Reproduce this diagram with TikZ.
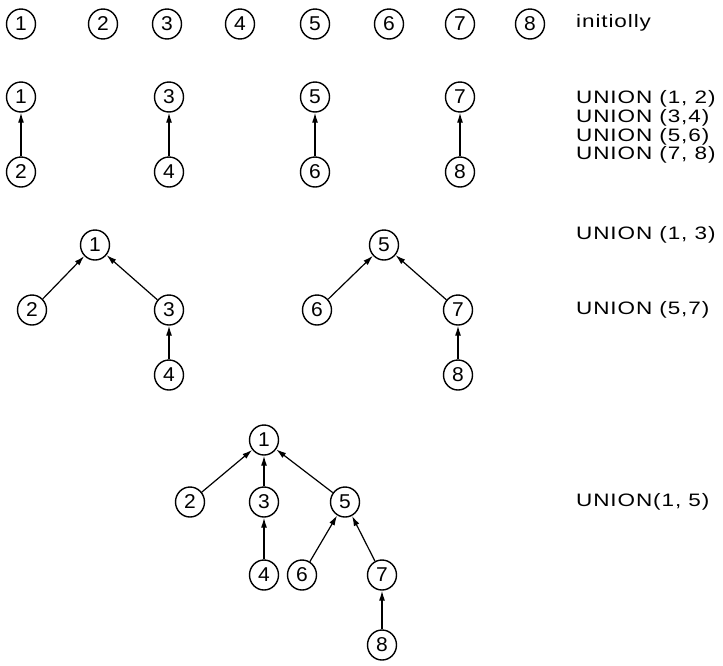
\documentclass[tikz,border=0pt]{standalone}
\usepackage{fontspec}
\setmainfont{Liberation Sans}
\newfontfamily\lblfont[FakeStretch=1.25,LetterSpace=5]{Liberation Sans}
\newfontfamily\numfont[FakeStretch=1.05]{Liberation Sans}
\usetikzlibrary{shapes.geometric,arrows.meta}
\tikzset{
  vx/.style={ellipse,draw,line width=1.4pt,minimum width=29pt,minimum height=30pt,inner sep=0pt,font=\numfont\fontsize{20}{20}\selectfont},
  arr/.style={-{Latex[length=10pt,width=6pt]},line width=1.2pt},
  lbl/.style={anchor=west,inner sep=0pt,font=\lblfont\fontsize{18}{18}\selectfont}
}
\begin{document}
\begin{tikzpicture}[x=1pt,y=-1pt]
\useasboundingbox (0,0) rectangle (723,665);
% row 1
\node[vx] (a1) at (21,24) {1};
\node[vx] (a2) at (103,24) {2};
\node[vx] (a3) at (167,24) {3};
\node[vx] (a4) at (240,24) {4};
\node[vx] (a5) at (315,24) {5};
\node[vx] (a6) at (389,24) {6};
\node[vx] (a7) at (460,24) {7};
\node[vx] (a8) at (530,24) {8};
\node[lbl] (t1) at (576,23) {initiolly};
% row 2
\node[vx] (b1) at (21,97) {1};
\node[vx] (b2) at (21,172) {2};
\node[vx] (b3) at (169,97) {3};
\node[vx] (b4) at (169,172) {4};
\node[vx] (b5) at (315,97) {5};
\node[vx] (b6) at (315,172) {6};
\node[vx] (b7) at (460,97) {7};
\node[vx] (b8) at (460,172) {8};
\draw[arr] (b2) -- (b1);
\draw[arr] (b4) -- (b3);
\draw[arr] (b6) -- (b5);
\draw[arr] (b8) -- (b7);
\node[lbl] (t2) at (576,99) {UNION (1, 2)};
\node[lbl] (t3) at (576,117.7) {UNION (3,4)};
\node[lbl] (t4) at (576,136.4) {UNION (5,6)};
\node[lbl] (t5) at (576,155.1) {UNION (7, 8)};
% row 3
\node[vx] (c1) at (95,245) {1};
\node[vx] (c2) at (32,310) {2};
\node[vx] (c3) at (169,310) {3};
\node[vx] (c4) at (169,375) {4};
\node[vx] (c5) at (384,245) {5};
\node[vx] (c6) at (317,310) {6};
\node[vx] (c7) at (458,310) {7};
\node[vx] (c8) at (458,375) {8};
\draw[arr] (c2) -- (c1);
\draw[arr] (c3) -- (c1);
\draw[arr] (c4) -- (c3);
\draw[arr] (c6) -- (c5);
\draw[arr] (c7) -- (c5);
\draw[arr] (c8) -- (c7);
\node[lbl] (t6) at (576,235) {UNION (1, 3)};
\node[lbl] (t7) at (576,310) {UNION (5,7)};
% row 4
\node[vx] (d1) at (264,440) {1};
\node[vx] (d2) at (190,502) {2};
\node[vx] (d3) at (264,502) {3};
\node[vx] (d5) at (345,502) {5};
\node[vx] (d4) at (264,575) {4};
\node[vx] (d6) at (302,575) {6};
\node[vx] (d7) at (382,575) {7};
\node[vx] (d8) at (382,645) {8};
\draw[arr] (d2) -- (d1);
\draw[arr] (d3) -- (d1);
\draw[arr] (d5) -- (d1);
\draw[arr] (d4) -- (d3);
\draw[arr] (d6) -- (d5);
\draw[arr] (d7) -- (d5);
\draw[arr] (d8) -- (d7);
\node[lbl] (t8) at (576,502) {UNION(1, 5)};
\end{tikzpicture}
\end{document}
